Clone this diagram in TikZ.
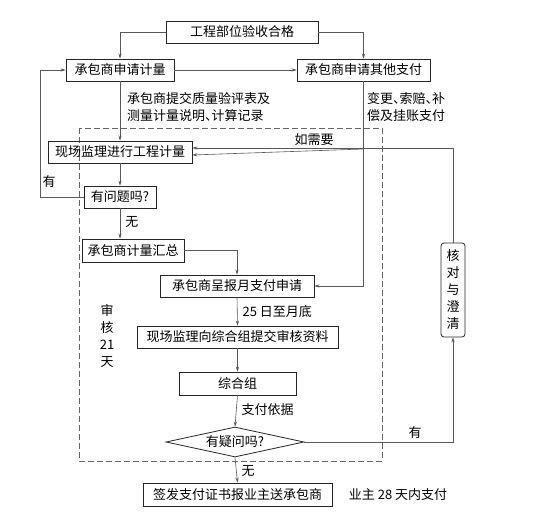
\documentclass[tikz,border=0pt]{standalone}
\usepackage{fontspec}
\setmainfont{Noto Sans CJK SC}
\usetikzlibrary{arrows.meta,shapes.geometric,calc}
\newcommand\dunhao{\makebox[0.5em][l]{、}}
\begin{document}
\begin{tikzpicture}[x=1pt,y=-1pt,
  every node/.style={inner sep=0pt,font=\fontsize{13}{17}\selectfont},
  box/.style={draw=black!85,line width=0.8pt,rectangle,minimum height=22pt},
  diam/.style={draw=black!85,line width=0.8pt,diamond,aspect=4.6,minimum width=138pt,minimum height=30pt},
  vbox/.style={draw=black!85,line width=0.8pt,rectangle,rounded corners=3pt,minimum width=24pt,minimum height=94pt,align=center},
  conn/.style={draw=black!65,line width=0.6pt},
  arr/.style={conn,-{Stealth[length=5pt,width=3.2pt]}},
  lbl/.style={text=black}]
\useasboundingbox (0,0) rectangle (545,518);
% dashed region
\draw[black!60,line width=0.6pt,dash pattern=on 6pt off 3pt] (79,128) rectangle (382,461);
% nodes
\node[box,minimum width=152pt] (top) at (242,32) {工程部位验收合格};
\node[box,minimum width=108pt] (apply) at (120,70) {承包商申请计量};
\node[box,minimum width=133pt] (other) at (363.5,70) {承包商申请其他支付};
\node[box,minimum width=144pt] (measure) at (120,152) {现场监理进行工程计量};
\node[box,minimum width=72pt] (problem) at (120,197) {有问题吗?};
\node[box,minimum width=102pt,minimum height=23pt] (summary) at (133,250.5) {承包商计量汇总};
\node[box,minimum width=154pt] (monthly) at (237,286) {承包商呈报月支付申请};
\node[box,minimum width=201pt] (submit) at (237.5,337) {现场监理向综合组提交审核资料};
\node[box,minimum width=117pt,minimum height=23pt] (group) at (237.5,383.5) {综合组};
\node[diam] (doubt) at (235,442) {有疑问吗?};
\node[vbox] (verify) at (453,290) {核\\对\\与\\澄\\清};
\node[box,minimum width=189pt,minimum height=23pt] (issue) at (237.5,494.5) {签发支付证书报业主送承包商};
% text labels
\node[lbl,anchor=west,align=left] (note1) at (127,107.5) {承包商提交质量验评表及\\测量计量说明\dunhao 计算记录};
\node[lbl,anchor=west,align=left] (note2) at (367,107.5) {变更\dunhao 索赔\dunhao 补\\偿及挂账支付};
\node[lbl,align=center] (days) at (107,335.5) {审\\核\\21\\天};
\node[lbl] (owner) at (398,494.5) {业主 28 天内支付};
\node[lbl] (yes1) at (49,182) {有};
\node[lbl] (yes2) at (415,433) {有};
\node[lbl] (ifneed) at (314,140) {如需要};
\coordinate (loopL) at (40,197);
\coordinate (split) at (363.5,149);
% connectors
\draw[arr] (top.west) -| (apply.north);
\draw[arr] (top.east) -| (other.north);
\draw[arr] (apply.east) -- (other.west);
\draw[arr] (apply.south) -- (measure.north);
\draw[arr] (measure.south) -- (problem.north);
\draw[arr] (problem.south) -- node[lbl,right=5pt,pos=0.45] {无} (problem.south |- summary.north);
\draw[arr] (problem.west) -- (loopL) |- (apply.west);
\draw[arr] (summary.east) -| (monthly.north);
\draw[arr] (other.south) |- (monthly.east);
\draw[arr] (split) -- ([yshift=-3pt]measure.east);
\draw[arr] (verify.north) |- ([yshift=4pt]measure.east);
\draw[arr] (doubt.east) -| (verify.south);
\draw[arr] (monthly.south) -- node[lbl,right=5pt] {25 日至月底} (submit.north);
\draw[arr] (submit.south) -- (group.north);
\draw[arr] (group.south) -- node[lbl,right=5pt,pos=0.45] {支付依据} (doubt.north);
\draw[arr] (doubt.south) -- node[lbl,right=5pt,pos=0.55] {无} (issue.north);
\end{tikzpicture}
\end{document}
